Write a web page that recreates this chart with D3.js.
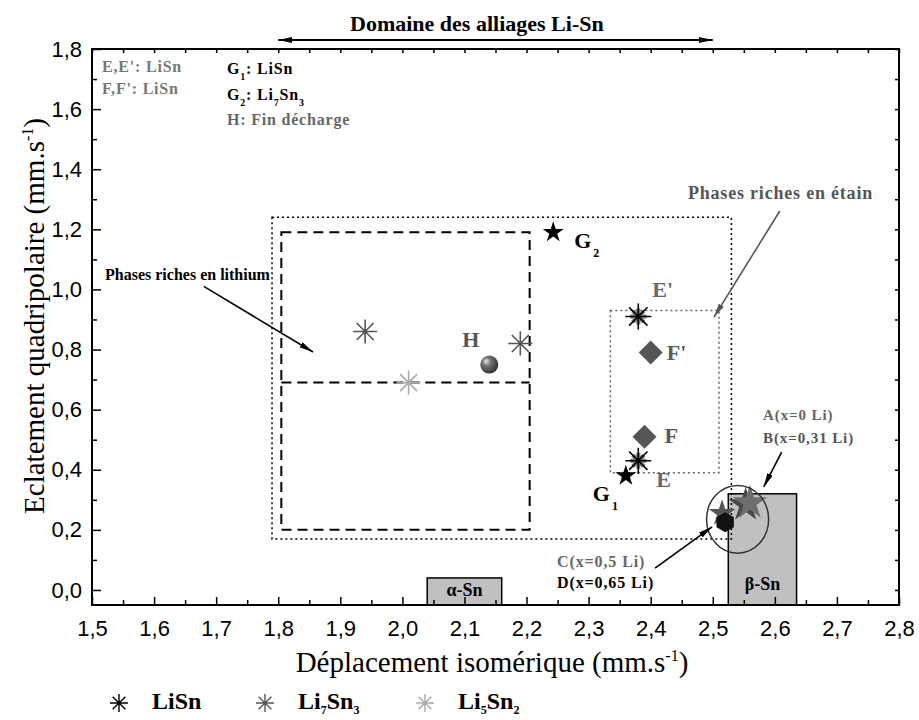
<!DOCTYPE html>
<html>
<head>
<meta charset="utf-8">
<script src="https://cdn.jsdelivr.net/npm/d3@7"></script>
<style>
  body { margin: 0; background: #fff; }
  text { font-family: "Liberation Serif", "Times New Roman", serif; }
  .tick text { font-family: "Liberation Sans", Arial, sans-serif; }
</style>
</head>
<body>
<svg id="chart" width="919" height="720"></svg>
<script>
// ---- Axis ticks and labels ----
const xMajor = [1.5, 1.6, 1.7, 1.8, 1.9, 2.0, 2.1, 2.2, 2.3, 2.4, 2.5, 2.6, 2.7, 2.8];
const xLabels = ["1,5", "1,6", "1,7", "1,8", "1,9", "2,0", "2,1", "2,2", "2,3", "2,4", "2,5", "2,6", "2,7", "2,8"];
const xMinor = [1.55, 1.65, 1.75, 1.85, 1.95, 2.05, 2.15, 2.25, 2.35, 2.45, 2.55, 2.65, 2.75];
const yMajor = [0, 0.2, 0.4, 0.6, 0.8, 1.0, 1.2, 1.4, 1.6, 1.8];
const yLabels = ["0,0", "0,2", "0,4", "0,6", "0,8", "1,0", "1,2", "1,4", "1,6", "1,8"];
const yMinor = [0.1, 0.3, 0.5, 0.7, 0.9, 1.1, 1.3, 1.5, 1.7];

// ---- Measured points (isomer shift, quadrupole splitting) ----
const liSnPts   = [{ label: "E'", x: 2.38, y: 0.91 }, { label: "E", x: 2.38, y: 0.43 }];
const li7Sn3Pts = [{ x: 1.94, y: 0.86 }, { x: 2.19, y: 0.82 }];
const li5Sn2Pts = [{ x: 2.01, y: 0.69 }];
const fPts      = [{ label: "F'", x: 2.40, y: 0.79 }, { label: "F", x: 2.39, y: 0.51 }];
const gPts      = [{ label: "G", sub: "2", x: 2.243, y: 1.19 }, { label: "G", sub: "1", x: 2.36, y: 0.38 }];
const hPts      = [{ label: "H", x: 2.14, y: 0.75 }];
const abPts     = [{ name: "B", x: 2.553, y: 0.283 }, { name: "A", x: 2.56, y: 0.29 }];
const cPts      = [{ name: "C", x: 2.515, y: 0.255 }];
const dPts      = [{ name: "D", x: 2.52, y: 0.225 }];
const initialZone = { cx: 2.54, cy: 0.235, rx: 0.05, ry: 0.113 };

// ---- Reference domains ----
const alphaSn    = { x0: 2.04, x1: 2.16, y1: 0.04 };
const betaSn     = { x0: 2.525, x1: 2.635, y1: 0.32 };
const alloyBox   = { x0: 1.79, x1: 2.53, y0: 0.17, y1: 1.24 };
const lithiumBox = { x0: 1.805, x1: 2.205, y0: 0.20, y1: 1.19, ymid: 0.69 };
const tinBox     = { x0: 2.335, x1: 2.51, y0: 0.39, y1: 0.93 };
const alloySpan  = [1.80, 2.50];

// ---- Legend entries ----
const seriesLegend = [
  { parts: [["LiSn", false]], color: "#000" },
  { parts: [["Li", false], ["7", true], ["Sn", false], ["3", true]], color: "#555" },
  { parts: [["Li", false], ["5", true], ["Sn", false], ["2", true]], color: "#aaa" }
];

const svg = d3.select("#chart");
const plot = { left: 92, right: 899, top: 49, bottom: 605 };

const x = d3.scaleLinear().domain([1.5, 2.8]).range([plot.left, plot.right]);
const y = d3.scaleLinear().domain([-0.05, 1.8]).range([plot.bottom, plot.top]);

const defs = svg.append("defs");
function arrowMarker(id, color) {
  defs.append("marker")
    .attr("id", id).attr("viewBox", "0 0 14 6")
    .attr("refX", 14).attr("refY", 3)
    .attr("markerWidth", 14).attr("markerHeight", 6)
    .attr("markerUnits", "userSpaceOnUse")
    .attr("orient", "auto-start-reverse")
    .append("path").attr("d", "M0,0 L14,3 L0,6 Z").attr("fill", color);
}
arrowMarker("arrowBlack", "#000");
arrowMarker("arrowGray", "#555");

const grad = defs.append("radialGradient").attr("id", "sphere")
  .attr("cx", "40%").attr("cy", "40%").attr("r", "65%").attr("fx", "32%").attr("fy", "30%");
grad.append("stop").attr("offset", "0%").attr("stop-color", "#e8e8e8");
grad.append("stop").attr("offset", "35%").attr("stop-color", "#777");
grad.append("stop").attr("offset", "100%").attr("stop-color", "#2a2a2a");

// ---- Shaded reference boxes (under the axes) ----
function rectFrom(g, b, y0) {
  return g.append("rect")
    .attr("x", x(b.x0)).attr("y", y(b.y1))
    .attr("width", x(b.x1) - x(b.x0)).attr("height", y(y0) - y(b.y1));
}
const boxes = svg.append("g");
rectFrom(boxes, alphaSn, -0.05).attr("fill", "#c0c0c0").attr("stroke", "#000").attr("stroke-width", 1.5);
rectFrom(boxes, betaSn, -0.05).attr("fill", "#c0c0c0").attr("stroke", "#000").attr("stroke-width", 1.5);

// ---- Axes ----
const axG = svg.append("g");
function styleAxis(g) {
  g.select(".domain").remove();
  g.selectAll(".tick line").attr("stroke", "#000").attr("stroke-width", 1.5);
  g.selectAll(".tick text").attr("font-size", 22).attr("fill", "#000");
}
axG.append("g").attr("transform", `translate(0,${plot.bottom})`)
  .call(d3.axisBottom(x).tickValues(xMajor).tickSize(-8).tickPadding(15)
    .tickFormat((d, i) => xLabels[i])).call(styleAxis);
axG.append("g").attr("transform", `translate(0,${plot.bottom})`)
  .call(d3.axisBottom(x).tickValues(xMinor).tickSize(-5).tickFormat("")).call(styleAxis);
axG.append("g").attr("transform", `translate(0,${plot.top})`)
  .call(d3.axisTop(x).tickValues(xMajor.concat(xMinor)).tickSize(-4).tickFormat("")).call(styleAxis);
axG.append("g").attr("transform", `translate(${plot.left},0)`)
  .call(d3.axisLeft(y).tickValues(yMajor).tickSize(-9).tickPadding(10)
    .tickFormat((d, i) => yLabels[i])).call(styleAxis);
axG.append("g").attr("transform", `translate(${plot.left},0)`)
  .call(d3.axisLeft(y).tickValues(yMinor).tickSize(-5).tickFormat("")).call(styleAxis);
axG.append("g").attr("transform", `translate(${plot.right},0)`)
  .call(d3.axisRight(y).tickValues(yMajor.concat(yMinor)).tickSize(-4).tickFormat("")).call(styleAxis);

svg.append("rect")
  .attr("x", plot.left).attr("y", plot.top)
  .attr("width", plot.right - plot.left).attr("height", plot.bottom - plot.top)
  .attr("fill", "none").attr("stroke", "#000").attr("stroke-width", 2);

// Box labels
svg.append("text").attr("x", (x(alphaSn.x0) + x(alphaSn.x1)) / 2).attr("y", y(alphaSn.y1) + 18)
  .attr("text-anchor", "middle").attr("font-size", 18).attr("font-weight", "bold").text("α-Sn");
svg.append("text").attr("x", (x(betaSn.x0) + x(betaSn.x1)) / 2).attr("y", 590)
  .attr("text-anchor", "middle").attr("font-size", 18).attr("font-weight", "bold").text("β-Sn");

// ---- Axis titles ----
const xt = svg.append("text").attr("x", 492).attr("y", 672)
  .attr("text-anchor", "middle").attr("font-size", 29);
xt.append("tspan").text("Déplacement isomérique (mm.s");
xt.append("tspan").attr("font-size", 16).attr("dy", -11).text("-1");
xt.append("tspan").attr("dy", 11).text(")");

const yt = svg.append("text").attr("transform", "translate(44,316) rotate(-90)")
  .attr("text-anchor", "middle").attr("font-size", 29);
yt.append("tspan").text("Eclatement quadripolaire (mm.s");
yt.append("tspan").attr("font-size", 16).attr("dy", -11).text("-1");
yt.append("tspan").attr("dy", 11).text(")");

// ---- Region outlines ----
const reg = svg.append("g").attr("fill", "none");
rectFrom(reg, alloyBox, alloyBox.y0).attr("stroke", "#000").attr("stroke-width", 1.5).attr("stroke-dasharray", "2,3");
rectFrom(reg, lithiumBox, lithiumBox.y0).attr("stroke", "#000").attr("stroke-width", 2).attr("stroke-dasharray", "10,6");
reg.append("line")
  .attr("x1", x(lithiumBox.x0)).attr("x2", x(lithiumBox.x1))
  .attr("y1", y(lithiumBox.ymid)).attr("y2", y(lithiumBox.ymid))
  .attr("stroke", "#000").attr("stroke-width", 2).attr("stroke-dasharray", "10,6");
rectFrom(reg, tinBox, tinBox.y0).attr("stroke", "#666").attr("stroke-width", 1.5).attr("stroke-dasharray", "2,3");

// ---- Marker helpers ----
function asteriskPath(r) {
  const d = r * Math.SQRT1_2;
  return `M${-r},0L${r},0M0,${-r}L0,${r}M${-d},${-d}L${d},${d}M${-d},${d}L${d},${-d}`;
}
function hexPath(r) {
  const pts = d3.range(6).map(i => {
    const a = Math.PI / 6 + i * Math.PI / 3;
    return [r * Math.cos(a), r * Math.sin(a)];
  });
  return "M" + pts.map(p => p.join(",")).join("L") + "Z";
}
const starSym = r => d3.symbol(d3.symbolStar, r * r / 0.8908130915292852)();
const diamondSym = h => d3.symbol(d3.symbolSquare, 2 * h * h)();

const marks = svg.append("g");

// Lithium-rich phases
marks.selectAll(".li7").data(li7Sn3Pts).join("path")
  .attr("transform", d => `translate(${x(d.x)},${y(d.y)})`)
  .attr("d", asteriskPath(12)).attr("stroke", "#555").attr("stroke-width", 1.6).attr("fill", "none");
marks.selectAll(".li5").data(li5Sn2Pts).join("path")
  .attr("transform", d => `translate(${x(d.x)},${y(d.y)})`)
  .attr("d", asteriskPath(12)).attr("stroke", "#aaa").attr("stroke-width", 1.6).attr("fill", "none");

// H sphere
marks.selectAll(".h").data(hPts).join("circle")
  .attr("cx", d => x(d.x)).attr("cy", d => y(d.y)).attr("r", 9)
  .attr("fill", "url(#sphere)");
marks.selectAll(".hl").data(hPts).join("text")
  .attr("x", d => x(d.x) - 27).attr("y", d => y(d.y) - 18)
  .attr("font-size", 22).attr("font-weight", "bold").attr("fill", "#555").text(d => d.label);

// G stars
marks.selectAll(".g").data(gPts).join("path")
  .attr("transform", d => `translate(${x(d.x)},${y(d.y)})`)
  .attr("d", starSym(11)).attr("fill", "#000");
const gOff = { "2": [21, 16], "1": [-33, 25] };
marks.selectAll(".gl").data(gPts).join("text")
  .attr("x", d => x(d.x) + gOff[d.sub][0]).attr("y", d => y(d.y) + gOff[d.sub][1])
  .attr("font-size", 22).attr("font-weight", "bold").attr("fill", "#000")
  .each(function (d) {
    d3.select(this).append("tspan").text(d.label);
    d3.select(this).append("tspan").attr("font-size", 12).attr("dy", 9).attr("dx", 2).text(d.sub);
  });

// E, E' : gray burst under black asterisk
marks.selectAll(".eg").data(liSnPts).join("path")
  .attr("transform", d => `translate(${x(d.x)},${y(d.y)})`)
  .attr("d", asteriskPath(8)).attr("stroke", "#777").attr("stroke-width", 4).attr("fill", "none");
marks.selectAll(".e").data(liSnPts).join("path")
  .attr("transform", d => `translate(${x(d.x)},${y(d.y)})`)
  .attr("d", asteriskPath(13)).attr("stroke", "#000").attr("stroke-width", 1.6).attr("fill", "none");
const eOff = { "E'": [14, -19], "E": [18, 26] };
marks.selectAll(".el").data(liSnPts).join("text")
  .attr("x", d => x(d.x) + eOff[d.label][0]).attr("y", d => y(d.y) + eOff[d.label][1])
  .attr("font-size", 22).attr("font-weight", "bold").attr("fill", "#6a6a6a").text(d => d.label);

// F, F' diamonds
marks.selectAll(".f").data(fPts).join("path")
  .attr("transform", d => `translate(${x(d.x)},${y(d.y)}) rotate(45)`)
  .attr("d", diamondSym(12)).attr("fill", "#555");
const fOff = { "F'": [16, 7], "F": [20, 6] };
marks.selectAll(".fl").data(fPts).join("text")
  .attr("x", d => x(d.x) + fOff[d.label][0]).attr("y", d => y(d.y) + fOff[d.label][1])
  .attr("font-size", 22).attr("font-weight", "bold").attr("fill", "#5a5a5a").text(d => d.label);

// A, B, C, D near beta-Sn
marks.selectAll(".ab").data(abPts).join("path")
  .attr("transform", d => `translate(${x(d.x)},${y(d.y)})`)
  .attr("d", starSym(18)).attr("fill", d => d.name === "A" ? "#6e6e6e" : "#4a4a4a");
marks.selectAll(".c").data(cPts).join("path")
  .attr("transform", d => `translate(${x(d.x)},${y(d.y)})`)
  .attr("d", starSym(14)).attr("fill", "#555");
marks.selectAll(".d").data(dPts).join("path")
  .attr("transform", d => `translate(${x(d.x)},${y(d.y)})`)
  .attr("d", hexPath(10)).attr("fill", "#111");
marks.append("ellipse")
  .attr("cx", x(initialZone.cx)).attr("cy", y(initialZone.cy))
  .attr("rx", x(initialZone.cx + initialZone.rx) - x(initialZone.cx))
  .attr("ry", y(initialZone.cy) - y(initialZone.cy + initialZone.ry))
  .attr("fill", "none").attr("stroke", "#333").attr("stroke-width", 1.5);

// ---- Annotations ----
const ann = svg.append("g");
function arrow(x1, y1, x2, y2, marker, color) {
  return ann.append("line")
    .attr("x1", x(x1)).attr("y1", y(y1)).attr("x2", x(x2)).attr("y2", y(y2))
    .attr("stroke", color).attr("stroke-width", 1.6).attr("marker-end", `url(#${marker})`);
}
function label(xv, yv, txt, size, color, spacing) {
  return ann.append("text").attr("x", x(xv)).attr("y", y(yv))
    .attr("font-size", size).attr("font-weight", "bold").attr("fill", color)
    .attr("letter-spacing", spacing || 0).text(txt);
}

// alloy domain double arrow above the frame
ann.append("line")
  .attr("x1", x(alloySpan[0])).attr("x2", x(alloySpan[1])).attr("y1", 40).attr("y2", 40)
  .attr("stroke", "#000").attr("stroke-width", 2)
  .attr("marker-start", "url(#arrowBlack)").attr("marker-end", "url(#arrowBlack)");
ann.append("text").attr("x", x(2.12)).attr("y", 31).attr("text-anchor", "middle")
  .attr("font-size", 22).attr("font-weight", "bold").text("Domaine des alliages Li-Sn");

label(1.521, 1.032, "Phases riches en lithium", 16, "#000");
arrow(1.68, 1.01, 1.856, 0.792, "arrowBlack", "#000");

label(2.46, 1.30, "Phases riches en étain", 18, "#555", 0.8);
arrow(2.608, 1.261, 2.502, 0.908, "arrowGray", "#555");

label(2.581, 0.566, "A(x=0 Li)", 15, "#666", 0.9);
label(2.581, 0.489, "B(x=0,31 Li)", 15, "#555", 0.9);
arrow(2.611, 0.459, 2.582, 0.343, "arrowBlack", "#000");

label(2.249, 0.077, "C(x=0,5 Li)", 16, "#666", 0.9);
label(2.249, 0.007, "D(x=0,65 Li)", 16, "#000", 0.9);
arrow(2.407, 0.073, 2.499, 0.21, "arrowBlack", "#000");

// ---- Phase key (top left) ----
const key = svg.append("g").attr("font-size", 16).attr("font-weight", "bold").attr("letter-spacing", 0.8);
key.append("text").attr("x", 102).attr("y", 72).attr("fill", "#777").text("E,E': LiSn");
key.append("text").attr("x", 102).attr("y", 94).attr("fill", "#777").text("F,F': LiSn");
const k1 = key.append("text").attr("x", 227).attr("y", 74).attr("fill", "#000");
k1.append("tspan").text("G");
k1.append("tspan").attr("font-size", 10).attr("dy", 6).text("1");
k1.append("tspan").attr("dy", -6).text(": LiSn");
const k2 = key.append("text").attr("x", 227).attr("y", 100).attr("fill", "#000");
k2.append("tspan").text("G");
k2.append("tspan").attr("font-size", 10).attr("dy", 6).text("2");
k2.append("tspan").attr("dy", -6).text(": Li");
k2.append("tspan").attr("font-size", 10).attr("dy", 6).text("7");
k2.append("tspan").attr("dy", -6).text("Sn");
k2.append("tspan").attr("font-size", 10).attr("dy", 6).text("3");
key.append("text").attr("x", 227).attr("y", 125).attr("fill", "#666").text("H: Fin décharge");

// ---- Series legend (bottom) ----
const legX = [119, 265, 425];
const leg = svg.append("g");
seriesLegend.forEach((s, i) => {
  leg.append("path").attr("transform", `translate(${legX[i]},703)`)
    .attr("d", asteriskPath(9)).attr("stroke", s.color).attr("stroke-width", 1.4).attr("fill", "none");
  const t = leg.append("text").attr("x", legX[i] + 33).attr("y", 709)
    .attr("font-size", 24).attr("font-weight", "bold").attr("fill", "#000");
  let sub = false;
  s.parts.forEach(([txt, isSub]) => {
    const sp = t.append("tspan").text(txt);
    if (isSub && !sub) { sp.attr("font-size", 12).attr("dy", 5); sub = true; }
    else if (!isSub && sub) { sp.attr("dy", -5); sub = false; }
    else if (isSub) sp.attr("font-size", 12);
  });
});
</script>
</body>
</html>
